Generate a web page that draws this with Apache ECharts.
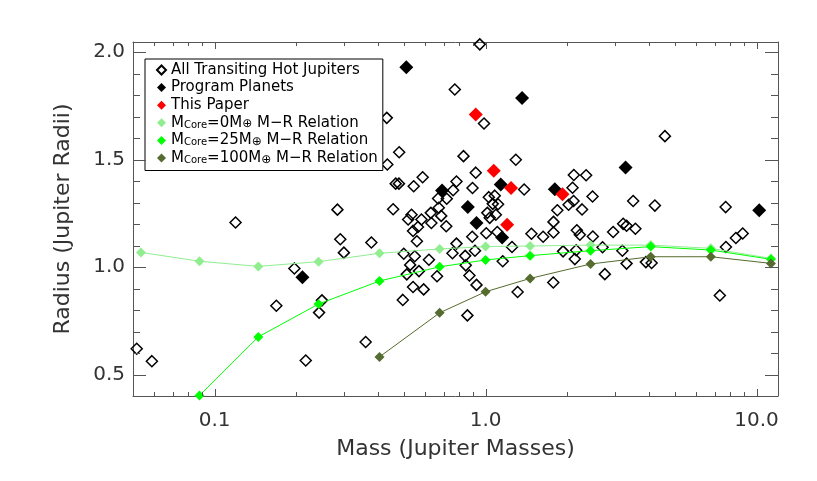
<!DOCTYPE html>
<html>
<head>
<meta charset="utf-8">
<title>Mass - Radius</title>
<style>
  html, body { margin: 0; padding: 0; background: #fff; }
  #chart { width: 817px; height: 481px; }
</style>
</head>
<body>
<div id="chart"></div>
<script src="https://cdn.jsdelivr.net/npm/echarts/dist/echarts.min.js"></script>
<script>
// [mass (MJ), radius (RJ)]
var allHotJupiters = [
  [0.0516, 0.620], [0.0587, 0.562], [0.1195, 1.207], [0.169, 0.820], [0.197, 0.993], [0.217, 0.565],
  [0.249, 0.845], [0.243, 0.788], [0.284, 1.267], [0.291, 1.129], [0.300, 1.067], [0.379, 1.114],
  [0.361, 0.651], [0.432, 1.694], [0.434, 1.477], [0.456, 1.269],
  [0.952, 2.036], [0.770, 1.826], [0.987, 1.668], [0.480, 1.534], [0.829, 1.516], [1.293, 1.499],
  [0.920, 1.439], [0.586, 1.418], [0.466, 1.388], [0.479, 1.388], [0.543, 1.376], [0.781, 1.398],
  [0.895, 1.368], [1.388, 1.361], [0.759, 1.357], [0.668, 1.319], [0.719, 1.318],
  [0.533, 1.243], [0.518, 1.221], [0.580, 1.221], [0.628, 1.252], [0.672, 1.276], [0.686, 1.238],
  [0.631, 1.205], [0.716, 1.190], [0.540, 1.168], [0.563, 1.186], [0.558, 1.120], [0.499, 1.062],
  [0.548, 1.050], [0.527, 1.010], [0.568, 0.981], [0.512, 0.966], [0.540, 0.907], [0.591, 0.896],
  [0.495, 0.847], [0.618, 1.034], [0.662, 0.957],
  [0.781, 1.109], [0.755, 1.064], [0.841, 1.052], [0.845, 1.008], [0.872, 0.961], [0.926, 0.917],
  [0.857, 0.775], [0.893, 1.141], [0.914, 1.076], [1.006, 1.157], [1.105, 1.163], [1.252, 1.093],
  [1.157, 1.027], [1.477, 1.155], [1.313, 0.884],
  [1.028, 1.325], [1.081, 1.332], [1.063, 1.294], [1.112, 1.292], [1.015, 1.252], [1.091, 1.243],
  [1.036, 1.229],
  [1.631, 1.141], [1.781, 1.161], [1.781, 1.210], [1.840, 1.264], [1.778, 0.928], [1.932, 1.073],
  [2.159, 1.078], [2.135, 1.037], [2.172, 1.171], [2.228, 1.150], [2.488, 1.142], [2.117, 1.428],
  [2.350, 1.427], [2.094, 1.369], [2.482, 1.328], [2.112, 1.307], [2.025, 1.290], [2.270, 1.268],
  [3.505, 1.307], [2.702, 1.092], [2.755, 0.967], [2.957, 1.163], [3.220, 1.201], [3.314, 1.192],
  [3.572, 1.178], [3.198, 1.076], [3.314, 1.016], [3.905, 1.023], [4.10, 1.019], [4.59, 1.609],
  [4.215, 1.286], [7.69, 1.279], [7.71, 1.093], [8.39, 1.135], [8.89, 1.156], [7.32, 0.868]
];
var programPlanets = [
  [0.510, 1.929], [1.364, 1.787], [3.286, 1.463], [1.138, 1.384], [0.691, 1.356], [1.801, 1.362],
  [0.860, 1.279], [0.926, 1.205], [1.151, 1.137], [0.211, 0.953], [10.23, 1.264]
];
var thisPaper = [
  [0.920, 1.710], [1.072, 1.448], [1.242, 1.368], [1.201, 1.197], [1.923, 1.339]
];

// mass-radius relations (null = off the plot)
var mrMass        = [0.0535, 0.088, 0.145, 0.242, 0.406, 0.677, 1.0, 1.46, 2.44, 4.07, 6.78, 11.3];
var core0Radius   = [1.068, 1.027, 1.003, 1.025, 1.064, 1.084, 1.095, 1.098, 1.102, 1.102, 1.087, 1.040];
var core25Radius  = [null, 0.402, 0.675, 0.828, 0.935, 1.001, 1.033, 1.053, 1.076, 1.095, 1.079, 1.036];
var core100Radius = [null, null, null, null, 0.582, 0.787, 0.885, 0.947, 1.014, 1.048, 1.048, 1.017];

var xMajor = [0.1, 1, 10];
var xMinor = [0.06, 0.07, 0.08, 0.09, 0.2, 0.3, 0.4, 0.5, 0.6, 0.7, 0.8, 0.9, 2, 3, 4, 5, 6, 7, 8, 9];
var yMajor = [0.5, 1.0, 1.5, 2.0];
var yMinor = [0.6, 0.7, 0.8, 0.9, 1.1, 1.2, 1.3, 1.4, 1.6, 1.7, 1.8, 1.9];

var X_MIN = 0.05, X_MAX = 12;
var Y_MIN = 0.4, Y_MAX = 2.047;

var font = 'DejaVu Sans';
var axisColor = '#555';
var textColor = '#333';

function mrData(radii) {
    var out = [];
    for (var i = 0; i < mrMass.length; i++) {
        if (radii[i] != null) out.push([mrMass[i], radii[i]]);
    }
    return out;
}

var legendText = {
    'All Transiting Hot Jupiters': 'All Transiting Hot Jupiters',
    'Program Planets': 'Program Planets',
    'This Paper': 'This Paper',
    'MCore=0': 'M{sub|Core}=0M{earth|⊕} M−R Relation',
    'MCore=25': 'M{sub|Core}=25M{earth|⊕} M−R Relation',
    'MCore=100': 'M{sub|Core}=100M{earth|⊕} M−R Relation'
};

var chart = echarts.init(document.getElementById('chart'));

chart.setOption({
    backgroundColor: '#fff',
    animation: false,
    grid: { left: 133, right: 39, top: 42, bottom: 85 },
    xAxis: [
        {
            type: 'log', position: 'bottom', min: X_MIN, max: X_MAX,
            axisLine: { show: true, lineStyle: { color: axisColor, width: 1 } },
            axisTick: { show: false },
            axisLabel: {
                customValues: xMajor, margin: 15, fontSize: 20, color: textColor, fontFamily: font,
                formatter: function (v) { return Number(v).toFixed(1); }
            },
            splitLine: { show: false },
            name: 'Mass (Jupiter Masses)', nameLocation: 'middle', nameGap: 42,
            nameTextStyle: { fontSize: 22, color: textColor, fontFamily: font }
        },
        {
            type: 'log', position: 'top', min: X_MIN, max: X_MAX,
            axisLine: { show: true, lineStyle: { color: axisColor, width: 1 } },
            axisTick: { show: false }, axisLabel: { show: false }, splitLine: { show: false }
        }
    ],
    yAxis: [
        {
            type: 'value', position: 'left', min: Y_MIN, max: Y_MAX,
            axisLine: { show: true, lineStyle: { color: axisColor, width: 1 } },
            axisTick: { show: false },
            axisLabel: {
                customValues: yMajor, margin: 8, fontSize: 20, color: textColor, fontFamily: font,
                formatter: function (v) { return Number(v).toFixed(1); }
            },
            splitLine: { show: false },
            name: 'Radius (Jupiter Radii)', nameLocation: 'middle', nameGap: 59,
            nameTextStyle: { fontSize: 22, color: textColor, fontFamily: font }
        },
        {
            type: 'value', position: 'right', min: Y_MIN, max: Y_MAX,
            axisLine: { show: true, lineStyle: { color: axisColor, width: 1 } },
            axisTick: { show: false }, axisLabel: { show: false }, splitLine: { show: false }
        }
    ],
    legend: {
        orient: 'vertical', left: 145, top: 59,
        padding: [3.5, 5, 5, 11],
        itemWidth: 9, itemHeight: 9, itemGap: 2.6,
        borderColor: '#000', borderWidth: 1, borderRadius: 0,
        backgroundColor: '#fff',
        textStyle: {
            fontFamily: font, fontSize: 15, color: '#000', lineHeight: 15,
            rich: {
                sub: { fontFamily: font, fontSize: 10, color: '#000', lineHeight: 1, verticalAlign: 'bottom' },
                earth: { fontFamily: font, fontSize: 12, color: '#000', lineHeight: 3, verticalAlign: 'bottom' }
            }
        },
        formatter: function (name) { return legendText[name]; },
        data: [
            { name: 'All Transiting Hot Jupiters', icon: 'diamond' },
            { name: 'Program Planets', icon: 'diamond' },
            { name: 'This Paper', icon: 'diamond' },
            { name: 'MCore=0', icon: 'diamond' },
            { name: 'MCore=25', icon: 'diamond' },
            { name: 'MCore=100', icon: 'diamond' }
        ]
    },
    series: [
        {
            name: 'All Transiting Hot Jupiters', type: 'scatter', data: allHotJupiters,
            symbol: 'diamond', symbolSize: 11,
            itemStyle: { color: 'rgba(0,0,0,0)', borderColor: '#000', borderWidth: 1.5, opacity: 1 }
        },
        {
            name: 'Program Planets', type: 'scatter', data: programPlanets,
            symbol: 'diamond', symbolSize: 14,
            itemStyle: { color: '#000', opacity: 1 }
        },
        {
            name: 'This Paper', type: 'scatter', data: thisPaper,
            symbol: 'diamond', symbolSize: 14,
            itemStyle: { color: '#ff0000', opacity: 1 }
        },
        {
            name: 'MCore=0', type: 'line', data: mrData(core0Radius),
            symbol: 'diamond', symbolSize: 10, showSymbol: true,
            itemStyle: { color: '#90ee90' }, lineStyle: { color: '#90ee90', width: 1 }
        },
        {
            name: 'MCore=25', type: 'line', data: mrData(core25Radius),
            symbol: 'diamond', symbolSize: 10, showSymbol: true,
            itemStyle: { color: '#00ff00' }, lineStyle: { color: '#00ff00', width: 1 }
        },
        {
            name: 'MCore=100', type: 'line', data: mrData(core100Radius),
            symbol: 'diamond', symbolSize: 10, showSymbol: true,
            itemStyle: { color: '#556b2f' }, lineStyle: { color: '#556b2f', width: 1 }
        }
    ]
});

// IDL style inward ticks on all four sides, placed through the grid's own scales
var tickLines = [];
function addLine(x1, y1, x2, y2) {
    tickLines.push({
        type: 'line', silent: true, z: 50,
        shape: { x1: x1, y1: y1, x2: x2, y2: y2 },
        style: { stroke: axisColor, lineWidth: 1 }
    });
}
function addXTicks(values, len) {
    values.forEach(function (v) {
        var b = chart.convertToPixel({ gridIndex: 0 }, [v, Y_MIN]);
        var t = chart.convertToPixel({ gridIndex: 0 }, [v, Y_MAX]);
        var x = Math.round(b[0]) + 0.5;
        addLine(x, b[1], x, b[1] - len);
        addLine(x, t[1], x, t[1] + len);
    });
}
function addYTicks(values, len) {
    values.forEach(function (v) {
        var l = chart.convertToPixel({ gridIndex: 0 }, [X_MIN, v]);
        var r = chart.convertToPixel({ gridIndex: 0 }, [X_MAX, v]);
        var y = Math.round(l[1]) + 0.5;
        addLine(l[0], y, l[0] + len, y);
        addLine(r[0], y, r[0] - len, y);
    });
}
addXTicks(xMajor, 7);
addXTicks(xMinor, 4);
addYTicks(yMajor, 13);
addYTicks(yMinor, 7);

chart.setOption({ graphic: { elements: tickLines } });
</script>
</body>
</html>
